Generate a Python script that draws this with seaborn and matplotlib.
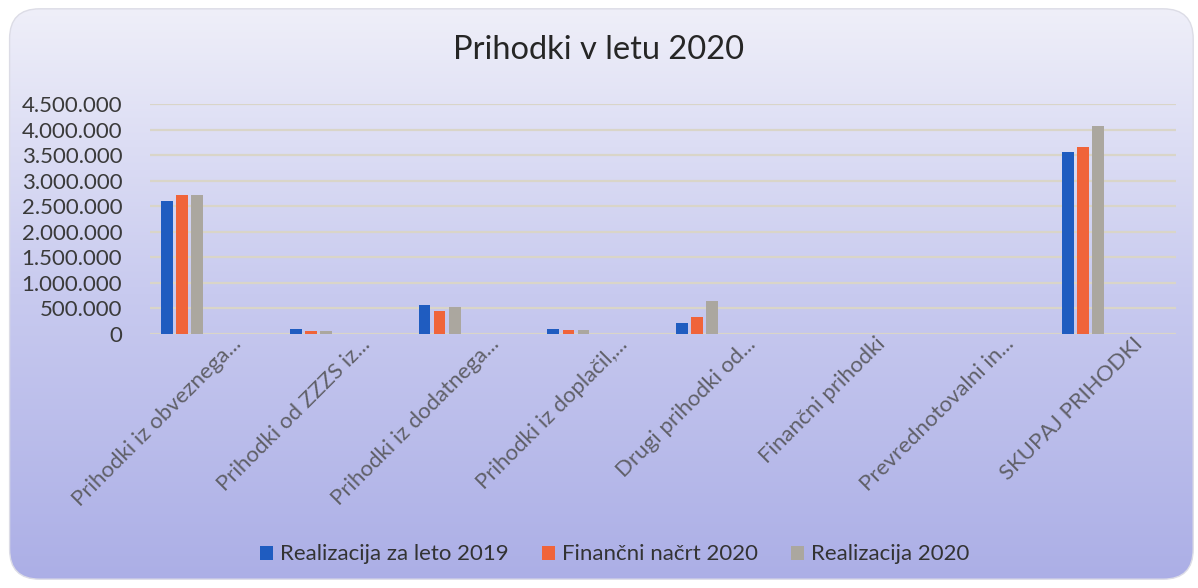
import numpy as np
import pandas as pd
import matplotlib
matplotlib.use("Agg")
import matplotlib.pyplot as plt
from matplotlib.patches import FancyBboxPatch
from matplotlib.ticker import FuncFormatter
import seaborn as sns

# podatki, odčitani z grafa
kategorije = ["Prihodki iz obveznega...", "Prihodki od ZZZS iz...",
              "Prihodki iz dodatnega...", "Prihodki iz doplačil,...",
              "Drugi prihodki od...", "Finančni prihodki",
              "Prevrednotovalni in...", "SKUPAJ PRIHODKI"]
realizacija_2019 = [2600000, 100000, 560000, 95000, 210000, 5000, 0, 3570000]
nacrt_2020 = [2730000, 65000, 450000, 70000, 340000, 3000, 0, 3660000]
realizacija_2020 = [2720000, 50000, 530000, 75000, 640000, 4000, 0, 4080000]
serije = ["Realizacija za leto 2019", "Finančni načrt 2020", "Realizacija 2020"]
barve = ["#1f5cc0", "#f0643a", "#aba79f"]

df = pd.DataFrame({
    "kategorija": kategorije * 3,
    "serija": np.repeat(serije, len(kategorije)),
    "vrednost": realizacija_2019 + nacrt_2020 + realizacija_2020,
})

sns.set_theme(style="white")
plt.rcParams["font.family"] = ["Lato", "DejaVu Sans"]

fig = plt.figure(figsize=(11.98, 5.88), dpi=100, facecolor="white")

# ozadje z gradientom v zaobljenem okvirju
bg = fig.add_axes([0, 0, 1, 1], zorder=-10)
bg.set_axis_off()
grad = np.linspace(0, 1, 256).reshape(-1, 1)
cmap = matplotlib.colors.LinearSegmentedColormap.from_list("bg", ["#f0f0f9", "#c8caef", "#abaee6"])
img = bg.imshow(grad, aspect="auto", cmap=cmap, extent=[0, 1, 0, 1], origin="upper")
okvir = FancyBboxPatch((0.008, 0.015), 0.988, 0.97, boxstyle="round,pad=0,rounding_size=0.025",
                       transform=bg.transAxes, facecolor="none", edgecolor="#dcdce6", lw=1.0,
                       mutation_aspect=1198 / 588)
bg.add_patch(okvir)
img.set_clip_path(okvir)
bg.set_xlim(0, 1)
bg.set_ylim(0, 1)

ax = fig.add_axes([0.1252, 0.432, 0.8564, 0.391])
ax.set_facecolor("none")
sns.barplot(data=df, x="kategorija", y="vrednost", hue="serija", palette=barve,
            width=0.35, gap=0.22, ax=ax, legend=True, zorder=3, saturation=1,
            edgecolor="none", linewidth=0)

ax.set_ylim(0, 4500000)
ax.set_yticks(np.arange(0, 4500001, 500000))
ax.yaxis.set_major_formatter(FuncFormatter(lambda v, p: "0" if v == 0 else f"{int(v):,}".replace(",", ".")))
ax.set_xlim(-0.25, 7.72)
ax.grid(axis="y", color="#d9d5c8", lw=1.6, zorder=0)
for s in ax.spines.values():
    s.set_visible(False)
ax.set_xticks(np.arange(len(kategorije)) + 0.38)
ax.set_xticklabels(kategorije, rotation=45, ha="right", rotation_mode="anchor",
                   fontsize=16, color="#606068")
ax.tick_params(axis="y", length=0, pad=20, labelsize=16, labelcolor="#3a3a3a")
ax.tick_params(axis="x", length=0, pad=0)
ax.set_xlabel("")
ax.set_ylabel("")

handles, labels = ax.get_legend_handles_labels()
ax.get_legend().remove()
fig.legend(handles, labels, loc="center", bbox_to_anchor=(0.513, 0.057), ncol=3, frameon=False,
           fontsize=16, handlelength=0.6, handleheight=0.6, handletextpad=0.3,
           columnspacing=1.5, labelcolor="#333333")

fig.text(0.5, 0.915, "Prihodki v letu 2020", ha="center", va="center", fontsize=23.5, color="#262626")

fig.savefig("out.png", dpi=100, facecolor="white")
